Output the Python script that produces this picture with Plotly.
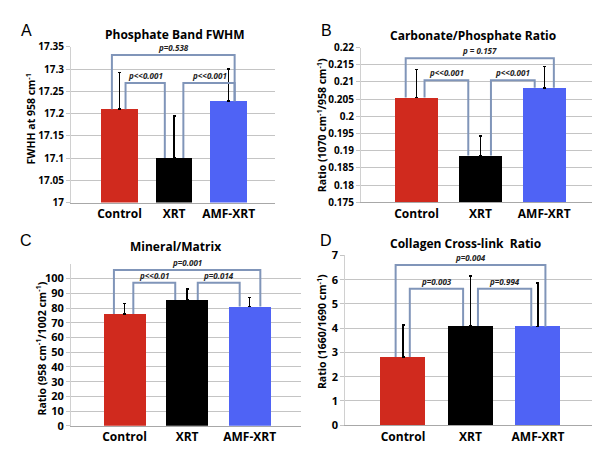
import plotly.graph_objects as go

# ---------------- data ----------------
categories = ["Control", "XRT", "AMF-XRT"]
bar_colors = ["#d02a1e", "#000000", "#4f63f5"]

A_values = [17.21, 17.10, 17.228]
A_err = [0.083, 0.095, 0.072]
A_ticks = [17, 17.05, 17.1, 17.15, 17.2, 17.25, 17.3, 17.35]
A_tick_text = ["17", "17.05", "17.1", "17.15", "17.2", "17.25", "17.3", "17.35"]
A_p = ["p<<0.001", "p<<0.001", "p=0.538"]
A_levels = [17.269, 17.269, 17.332]

B_values = [0.2055, 0.1886, 0.2083]
B_err = [0.0082, 0.0057, 0.0062]
B_ticks = [0.175, 0.18, 0.185, 0.19, 0.195, 0.2, 0.205, 0.21, 0.215, 0.22]
B_tick_text = ["0.175", "0.18", "0.185", "0.19", "0.195", "0.2", "0.205", "0.21", "0.215", "0.22"]
B_p = ["p<<0.001", "p<<0.001", "p = 0.157"]
B_levels = [0.2105, 0.2105, 0.2169]

C_values = [76.0, 85.4, 81.0]
C_err = [7.2, 7.6, 6.3]
C_ticks = [0, 10, 20, 30, 40, 50, 60, 70, 80, 90, 100]
C_tick_text = [str(v) for v in C_ticks]
C_p = ["p<<0.01", "p=0.014", "p=0.001"]
C_levels = [97.2, 97.2, 105.9]

D_values = [2.81, 4.09, 4.06]
D_err = [1.33, 2.07, 1.81]
D_ticks = [0, 1, 2, 3, 4, 5, 6, 7]
D_tick_text = [str(v) for v in D_ticks]
D_p = ["p=0.003", "p=0.994", "p=0.004"]
D_levels = [5.63, 5.63, 6.61]

bracket_pairs = [(0, 1), (1, 2), (0, 2)]

# ---------------- layout config ----------------
W, H = 600, 449
FONT = "Open Sans"
BRACKET = "#8095b9"


def px_x(p):
    return p / W


def px_y(p):
    return 1 - p / H


panels = [
    dict(letter="A", title="Phosphate Band FWHM",
         ytitle="FWHH at 958 cm<sup>-1</sup>",
         values=A_values, err=A_err, ticks=A_ticks, ticktext=A_tick_text,
         p=A_p, levels=A_levels, yrange=[17, 17.35], xrange=[-0.89, 2.85],
         xdom=[63, 267], ydom=[193, 32], ytick_size=10,
         legs=[(0.11, -0.17), (0.17, 0.11), (-0.14, 0.11)],
         title_xy=(167, 19), ytitle_xy=(22, 107), letter_xy=(18, 15)),
    dict(letter="B", title="Carbonate/Phosphate Ratio",
         ytitle="Ratio (1070 cm<sup>-1</sup>/958 cm<sup>-1</sup>)",
         values=B_values, err=B_err, ticks=B_ticks, ticktext=B_tick_text,
         p=B_p, levels=B_levels, yrange=[0.175, 0.22], xrange=[-0.87, 2.81],
         xdom=[353, 588], ydom=[192.7, 32.7], ytick_size=10,
         legs=[(0.125, -0.19), (0.165, -0.15), (-0.17, 0.15)],
         title_xy=(465, 20), ytitle_xy=(313, 113), letter_xy=(318, 15)),
    dict(letter="C", title="Mineral/Matrix",
         ytitle="Ratio (958 cm<sup>-1</sup>/1002 cm<sup>-1</sup>)",
         values=C_values, err=C_err, ticks=C_ticks, ticktext=C_tick_text,
         p=C_p, levels=C_levels, yrange=[0, 110], xrange=[-0.856, 2.82],
         xdom=[63, 293], ydom=[424, 424 - 110 * 1.523], ytick_size=11,
         legs=[(0.14, -0.19), (0.17, -0.16), (-0.17, 0.17)],
         title_xy=(167, 238), ytitle_xy=(33, 344), letter_xy=(18, 232)),
    dict(letter="D", title="Collagen Cross-link  Ratio",
         ytitle="Ratio (1660/1690 cm<sup>-1</sup>)",
         values=D_values, err=D_err, ticks=D_ticks, ticktext=D_tick_text,
         p=D_p, levels=D_levels, yrange=[0, 7], xrange=[-0.856, 2.83],
         xdom=[337.3, 586], ydom=[423.3, 247.7], ytick_size=11,
         legs=[(0.10, -0.11), (0.11, -0.10), (-0.11, 0.11)],
         title_xy=(457, 235), ytitle_xy=(313, 326), letter_xy=(318, 232)),
]

fig = go.Figure()
shapes = []
annotations = []
layout_axes = {}

for i, pn in enumerate(panels, start=1):
    xa = "x" if i == 1 else f"x{i}"
    ya = "y" if i == 1 else f"y{i}"
    xkey = "xaxis" if i == 1 else f"xaxis{i}"
    ykey = "yaxis" if i == 1 else f"yaxis{i}"

    fig.add_trace(go.Bar(
        x=list(range(len(categories))), y=pn["values"],
        marker=dict(color=bar_colors, line=dict(width=0)),
        width=0.67,
        error_y=dict(type="data", symmetric=False, array=pn["err"],
                     arrayminus=[0] * len(pn["err"]),
                     color="#000000", thickness=1.5, width=1.5),
        xaxis=xa, yaxis=ya, showlegend=False, hoverinfo="skip",
    ))

    layout_axes[xkey] = dict(
        domain=[px_x(pn["xdom"][0]), px_x(pn["xdom"][1])],
        anchor=ya, range=pn["xrange"],
        tickvals=list(range(len(categories))), ticktext=categories,
        tickfont=dict(family=FONT, size=12, color="#000000", weight="bold"),
        showgrid=False, zeroline=False, showline=True,
        linecolor="#a8a8a8", linewidth=1, ticks="", fixedrange=True,
    )
    layout_axes[ykey] = dict(
        domain=[px_y(pn["ydom"][0]), px_y(pn["ydom"][1])],
        anchor=xa, range=pn["yrange"],
        tickvals=pn["ticks"], ticktext=pn["ticktext"],
        tickfont=dict(family=FONT, size=pn["ytick_size"], color="#000000", weight="bold"),
        showgrid=True, gridcolor="#c4c4c4", gridwidth=1,
        zeroline=False, showline=True, linecolor="#d0d0d0", linewidth=1,
        ticks="outside", ticklen=4, tickcolor="#c4c4c4", fixedrange=True,
    )

    # significance brackets computed from bar tops
    for (a, b), (oa, ob), lvl, txt in zip(bracket_pairs, pn["legs"], pn["levels"], pn["p"]):
        x0, x1 = a + oa, b + ob
        y0, y1 = pn["values"][a], pn["values"][b]
        path = f"M {x0},{y0} L {x0},{lvl} L {x1},{lvl} L {x1},{y1}"
        shapes.append(dict(type="path", path=path, xref=xa, yref=ya,
                           line=dict(color=BRACKET, width=2), layer="above"))
        annotations.append(dict(
            x=(x0 + x1) / 2, y=lvl, xref=xa, yref=ya, text=txt,
            showarrow=False, yanchor="bottom", yshift=0,
            font=dict(family=FONT, size=8, color="#222222",
                      weight="bold", style="italic")))

    tx, ty = pn["title_xy"]
    annotations.append(dict(
        x=px_x(tx), y=px_y(ty), xref="paper", yref="paper",
        text=pn["title"], showarrow=False,
        xanchor="center", yanchor="middle",
        font=dict(family=FONT, size=12, color="#000000", weight="bold")))
    yx, yy = pn["ytitle_xy"]
    annotations.append(dict(
        x=px_x(yx), y=px_y(yy), xref="paper", yref="paper",
        text=pn["ytitle"], showarrow=False, textangle=-90,
        xanchor="center", yanchor="middle",
        font=dict(family=FONT, size=10.5, color="#000000", weight="bold")))
    lx, ly = pn["letter_xy"]
    annotations.append(dict(
        x=px_x(lx), y=px_y(ly), xref="paper", yref="paper",
        text=pn["letter"], showarrow=False,
        xanchor="center", yanchor="middle",
        font=dict(family="Liberation Sans", size=16, color="#000000")))

fig.update_layout(
    width=W, height=H,
    margin=dict(l=0, r=0, t=0, b=0),
    paper_bgcolor="#ffffff", plot_bgcolor="#ffffff",
    shapes=shapes, annotations=annotations,
    bargap=0, showlegend=False,
    **layout_axes,
)

fig.write_html("out.html")
